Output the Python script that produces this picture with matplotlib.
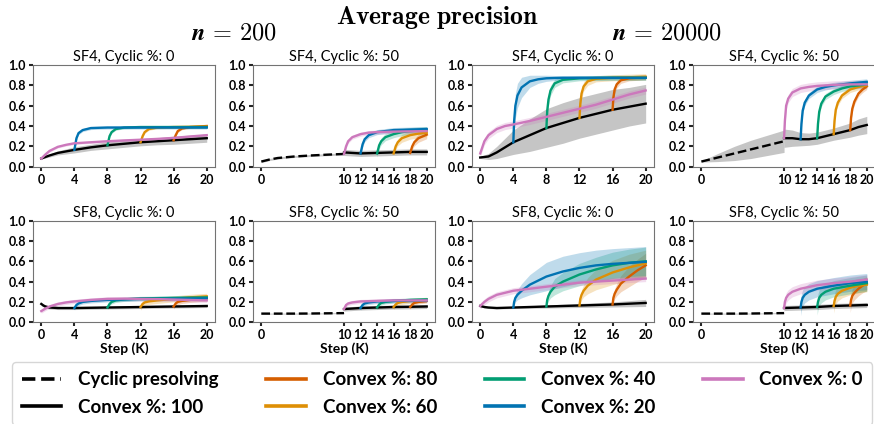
import numpy as np
import matplotlib
matplotlib.use("Agg")
import matplotlib.pyplot as plt
from matplotlib.lines import Line2D

plt.rcParams['font.family'] = ['Lato', 'DejaVu Sans']
plt.rcParams['mathtext.fontset'] = 'cm'

# curve name -> (steps, mean, band half width)
n200_sf4_c0 = {
    '100': ([0, 1, 2, 3, 4, 6, 8, 10, 12, 14, 16, 18, 20],
            [0.08, 0.11, 0.135, 0.15, 0.165, 0.19, 0.21, 0.225, 0.24, 0.25, 0.26, 0.27, 0.28],
            [0.005, 0.015, 0.02, 0.025, 0.03, 0.03, 0.035, 0.035, 0.035, 0.035, 0.04, 0.04, 0.04]),
    '80': ([16, 16.25, 16.5, 17, 18, 20], [0.26, 0.31, 0.35, 0.375, 0.39, 0.40], 0.012),
    '60': ([12, 12.25, 12.5, 13, 14, 16, 20], [0.24, 0.30, 0.34, 0.37, 0.385, 0.39, 0.395], 0.012),
    '40': ([8, 8.25, 8.5, 9, 10, 12, 16, 20], [0.21, 0.30, 0.34, 0.37, 0.385, 0.39, 0.39, 0.39], 0.012),
    '20': ([4, 4.25, 4.5, 5, 6, 8, 12, 16, 20],
           [0.165, 0.28, 0.33, 0.36, 0.38, 0.385, 0.385, 0.385, 0.385], 0.015),
    '0': ([0, 0.5, 1, 2, 3, 4, 6, 8, 10, 12, 14, 16, 18, 20],
          [0.08, 0.12, 0.155, 0.195, 0.215, 0.23, 0.24, 0.25, 0.258, 0.265, 0.273, 0.283, 0.297, 0.31], 0.012),
}

n200_sf4_c50 = {
    'cyclic': ([0, 1, 2, 4, 6, 8, 10], [0.05, 0.07, 0.085, 0.10, 0.11, 0.118, 0.125], 0.01),
    '100': ([10, 11, 12, 14, 16, 18, 20], [0.14, 0.135, 0.13, 0.135, 0.14, 0.145, 0.145], 0.03),
    '80': ([18, 18.25, 18.5, 19, 20], [0.135, 0.2, 0.24, 0.28, 0.315], [0.005, 0.03, 0.035, 0.04, 0.04]),
    '60': ([16, 16.25, 16.5, 17, 18, 19, 20], [0.13, 0.2, 0.24, 0.28, 0.31, 0.325, 0.335],
           [0.005, 0.03, 0.035, 0.04, 0.04, 0.04, 0.04]),
    '40': ([14, 14.25, 14.5, 15, 16, 17, 18, 20], [0.13, 0.21, 0.25, 0.29, 0.32, 0.34, 0.35, 0.36], 0.035),
    '20': ([12, 12.25, 12.5, 13, 14, 16, 18, 20], [0.13, 0.22, 0.27, 0.31, 0.34, 0.36, 0.365, 0.37], 0.025),
    '0': ([10, 10.25, 10.5, 11, 12, 13, 14, 16, 20],
          [0.125, 0.2, 0.25, 0.29, 0.32, 0.335, 0.34, 0.345, 0.35], 0.02),
}

n20000_sf4_c0 = {
    '100': ([0, 1, 2, 3, 4, 6, 8, 10, 12, 14, 16, 18, 20],
            [0.09, 0.10, 0.14, 0.19, 0.24, 0.31, 0.38, 0.43, 0.48, 0.52, 0.56, 0.59, 0.62],
            [0.01, 0.03, 0.06, 0.09, 0.12, 0.16, 0.19, 0.2, 0.2, 0.2, 0.2, 0.19, 0.19]),
    '80': ([16, 16.1, 16.25, 16.5, 17, 18, 20], [0.56, 0.68, 0.76, 0.81, 0.85, 0.87, 0.88],
           [0.01, 0.04, 0.04, 0.035, 0.03, 0.025, 0.025]),
    '60': ([12, 12.1, 12.25, 12.5, 13, 14, 16, 20], [0.48, 0.62, 0.72, 0.79, 0.84, 0.865, 0.875, 0.885],
           [0.01, 0.05, 0.05, 0.045, 0.04, 0.03, 0.03, 0.03]),
    '40': ([8, 8.1, 8.25, 8.5, 9, 10, 12, 16, 20], [0.38, 0.55, 0.66, 0.75, 0.82, 0.855, 0.87, 0.875, 0.875],
           [0.01, 0.06, 0.06, 0.05, 0.04, 0.03, 0.025, 0.025, 0.025]),
    '20': ([4, 4.1, 4.25, 4.5, 5, 6, 7, 8, 10, 14, 20],
           [0.24, 0.45, 0.60, 0.70, 0.78, 0.84, 0.86, 0.87, 0.875, 0.875, 0.875],
           [0.02, 0.1, 0.12, 0.12, 0.1, 0.06, 0.04, 0.03, 0.02, 0.02, 0.02]),
    '0': ([0, 0.5, 1, 2, 3, 4, 6, 8, 10, 12, 14, 16, 18, 20],
          [0.13, 0.25, 0.31, 0.37, 0.40, 0.415, 0.45, 0.49, 0.53, 0.57, 0.61, 0.66, 0.71, 0.75], 0.035),
}

n20000_sf4_c50 = {
    'cyclic': ([0, 2, 4, 6, 8, 10], [0.05, 0.09, 0.13, 0.17, 0.21, 0.25], [0.005, 0.04, 0.07, 0.09, 0.1, 0.11]),
    '100': ([10, 11, 12, 13, 14, 15, 16, 17, 18, 19, 20],
            [0.28, 0.28, 0.27, 0.27, 0.28, 0.30, 0.32, 0.34, 0.36, 0.39, 0.41],
            [0.09, 0.08, 0.065, 0.06, 0.06, 0.06, 0.06, 0.065, 0.07, 0.08, 0.085]),
    '80': ([18, 18.1, 18.25, 18.5, 19, 19.5, 20], [0.36, 0.48, 0.57, 0.64, 0.72, 0.76, 0.79], 0.03),
    '60': ([16, 16.1, 16.25, 16.5, 17, 18, 19, 20], [0.32, 0.45, 0.56, 0.63, 0.70, 0.76, 0.785, 0.80], 0.03),
    '40': ([14, 14.1, 14.25, 14.5, 15, 16, 17, 18, 20], [0.28, 0.42, 0.54, 0.62, 0.69, 0.74, 0.77, 0.79, 0.81], 0.03),
    '20': ([12, 12.1, 12.25, 12.5, 13, 14, 15, 16, 18, 20],
           [0.27, 0.42, 0.55, 0.63, 0.70, 0.76, 0.785, 0.80, 0.82, 0.835], 0.03),
    '0': ([10, 10.1, 10.25, 10.5, 11, 12, 13, 14, 16, 18, 20],
          [0.28, 0.45, 0.60, 0.67, 0.73, 0.77, 0.785, 0.795, 0.805, 0.81, 0.81], 0.04),
}

n200_sf8_c0 = {
    '100': ([0, 0.25, 0.5, 1, 2, 4, 8, 12, 16, 20],
            [0.18, 0.165, 0.155, 0.145, 0.14, 0.14, 0.145, 0.15, 0.155, 0.16], 0.015),
    '80': ([16, 16.25, 16.5, 17, 18, 20], [0.155, 0.185, 0.2, 0.21, 0.22, 0.235], 0.025),
    '60': ([12, 12.25, 12.5, 13, 14, 16, 18, 20], [0.15, 0.18, 0.195, 0.205, 0.215, 0.23, 0.245, 0.255], 0.03),
    '40': ([8, 8.25, 8.5, 9, 10, 12, 16, 20], [0.145, 0.18, 0.2, 0.215, 0.225, 0.235, 0.24, 0.245], 0.02),
    '20': ([4, 4.25, 4.5, 5, 6, 8, 12, 16, 20], [0.14, 0.17, 0.185, 0.2, 0.21, 0.22, 0.23, 0.232, 0.235], 0.02),
    '0': ([0, 0.5, 1, 2, 3, 4, 6, 8, 10, 14, 20],
          [0.11, 0.135, 0.155, 0.18, 0.195, 0.205, 0.22, 0.23, 0.232, 0.228, 0.215], 0.02),
}

n200_sf8_c50 = {
    'cyclic': ([0, 2, 4, 6, 8, 10], [0.085, 0.085, 0.085, 0.086, 0.088, 0.09], 0.005),
    '100': ([10, 12, 14, 16, 18, 20], [0.13, 0.14, 0.145, 0.15, 0.152, 0.155], 0.02),
    '80': ([18, 18.25, 18.5, 19, 20], [0.15, 0.175, 0.19, 0.2, 0.21], 0.02),
    '60': ([16, 16.25, 16.5, 17, 18, 20], [0.15, 0.175, 0.19, 0.2, 0.21, 0.22], 0.025),
    '40': ([14, 14.25, 14.5, 15, 16, 18, 20], [0.145, 0.175, 0.19, 0.2, 0.21, 0.22, 0.225], 0.02),
    '20': ([12, 12.25, 12.5, 13, 14, 16, 20], [0.14, 0.17, 0.185, 0.195, 0.205, 0.21, 0.215], 0.02),
    '0': ([10, 10.25, 10.5, 11, 12, 14, 16, 20], [0.13, 0.17, 0.185, 0.195, 0.205, 0.21, 0.215, 0.215], 0.02),
}

n20000_sf8_c0 = {
    '100': ([0, 0.5, 1, 2, 4, 8, 12, 16, 20],
            [0.16, 0.15, 0.145, 0.14, 0.145, 0.155, 0.165, 0.175, 0.19],
            [0.005, 0.01, 0.01, 0.01, 0.01, 0.015, 0.02, 0.025, 0.035]),
    '80': ([16, 16.1, 16.25, 16.5, 17, 18, 19, 20], [0.175, 0.24, 0.28, 0.32, 0.38, 0.45, 0.51, 0.56],
           [0.01, 0.04, 0.05, 0.06, 0.08, 0.1, 0.11, 0.12]),
    '60': ([12, 12.1, 12.25, 12.5, 13, 14, 16, 18, 20], [0.165, 0.23, 0.27, 0.31, 0.36, 0.42, 0.49, 0.54, 0.58],
           [0.01, 0.04, 0.05, 0.06, 0.08, 0.1, 0.12, 0.13, 0.13]),
    '40': ([8, 8.1, 8.25, 8.5, 9, 10, 12, 14, 16, 18, 20],
           [0.155, 0.22, 0.26, 0.30, 0.35, 0.40, 0.47, 0.52, 0.56, 0.585, 0.60],
           [0.01, 0.04, 0.05, 0.06, 0.08, 0.09, 0.11, 0.12, 0.13, 0.135, 0.14]),
    '20': ([4, 4.1, 4.25, 4.5, 5, 6, 7, 8, 10, 12, 14, 16, 18, 20],
           [0.145, 0.2, 0.24, 0.27, 0.31, 0.37, 0.41, 0.45, 0.50, 0.535, 0.56, 0.575, 0.585, 0.595],
           [0.01, 0.03, 0.04, 0.05, 0.07, 0.1, 0.12, 0.14, 0.15, 0.15, 0.15, 0.15, 0.15, 0.15]),
    '0': ([0, 0.5, 1, 2, 3, 4, 6, 8, 10, 12, 14, 16, 18, 20],
          [0.16, 0.2, 0.23, 0.27, 0.29, 0.31, 0.33, 0.35, 0.37, 0.39, 0.40, 0.41, 0.42, 0.43], 0.03),
}

n20000_sf8_c50 = {
    'cyclic': ([0, 2, 4, 6, 8, 10], [0.085, 0.085, 0.085, 0.086, 0.088, 0.09], 0.005),
    '100': ([10, 12, 14, 16, 18, 20], [0.14, 0.145, 0.15, 0.16, 0.165, 0.17], 0.025),
    '80': ([18, 18.1, 18.25, 18.5, 19, 19.5, 20], [0.165, 0.22, 0.26, 0.29, 0.33, 0.36, 0.38], 0.07),
    '60': ([16, 16.1, 16.25, 16.5, 17, 18, 19, 20], [0.16, 0.21, 0.25, 0.28, 0.31, 0.34, 0.36, 0.37], 0.07),
    '40': ([14, 14.1, 14.25, 14.5, 15, 16, 18, 20], [0.15, 0.2, 0.24, 0.27, 0.3, 0.33, 0.36, 0.385], 0.08),
    '20': ([12, 12.1, 12.25, 12.5, 13, 14, 16, 18, 20], [0.145, 0.2, 0.24, 0.27, 0.30, 0.33, 0.36, 0.385, 0.40], 0.08),
    '0': ([10, 10.1, 10.25, 10.5, 11, 12, 14, 16, 18, 20],
          [0.14, 0.2, 0.24, 0.27, 0.30, 0.33, 0.365, 0.385, 0.40, 0.42], 0.05),
}

panels = [
    [n200_sf4_c0, n200_sf4_c50, n20000_sf4_c0, n20000_sf4_c50],
    [n200_sf8_c0, n200_sf8_c50, n20000_sf8_c0, n20000_sf8_c50],
]
titles = [["SF4, Cyclic %: 0", "SF4, Cyclic %: 50"] * 2,
          ["SF8, Cyclic %: 0", "SF8, Cyclic %: 50"] * 2]
ticks_c0 = [0, 4, 8, 12, 16, 20]
ticks_c50 = [0, 10, 12, 14, 16, 18, 20]
yticks = [0.0, 0.2, 0.4, 0.6, 0.8, 1.0]

styles = {
    'cyclic': ('black', '--', 'Cyclic presolving'),
    '100': ('black', '-', 'Convex %: 100'),
    '80': ('#d55e00', '-', 'Convex %: 80'),
    '60': ('#de8f05', '-', 'Convex %: 60'),
    '40': ('#029e73', '-', 'Convex %: 40'),
    '20': ('#0173b2', '-', 'Convex %: 20'),
    '0': ('#cc78bc', '-', 'Convex %: 0'),
}
draw_order = ['cyclic', '100', '80', '60', '40', '20', '0']

fig = plt.figure(figsize=(8.74, 4.24), dpi=100)

lefts = [0.0378, 0.2895, 0.540, 0.793]
bottoms = [0.607, 0.240]
w, h = 0.2082, 0.2395

for r in range(2):
    for c in range(4):
        ax = fig.add_axes([lefts[c], bottoms[r], w, h])
        data = panels[r][c]
        for key in draw_order:
            if key not in data:
                continue
            xs, ys, sd = data[key]
            xs = np.array(xs, dtype=float)
            ys = np.array(ys, dtype=float)
            sd = np.broadcast_to(np.array(sd, dtype=float), ys.shape)
            col, ls, _ = styles[key]
            if col == 'black':
                ax.fill_between(xs, ys - sd, ys + sd, color='0.55', alpha=0.5, lw=0)
            else:
                ax.fill_between(xs, ys - sd, ys + sd, color=col, alpha=0.25, lw=0)
            ax.plot(xs, ys, color=col, ls=ls, lw=1.7)
        ax.set_ylim(0, 1)
        ax.set_xlim(-1, 21)
        xt = ticks_c0 if c % 2 == 0 else ticks_c50
        ax.set_yticks(yticks)
        ax.set_yticklabels(['%.1f' % v for v in yticks], fontweight='bold', fontsize=9)
        ax.set_xticks(xt)
        ax.set_xticklabels([str(v) for v in xt], fontweight='bold', fontsize=9)
        ax.set_title(titles[r][c], fontsize=10.5, pad=3)
        for sp in ax.spines.values():
            sp.set_color('0.45')
        ax.tick_params(length=3, width=1.5, pad=2, color='0.15')
        if r == 1:
            ax.set_xlabel('Step (K)', fontsize=10, fontweight='bold', labelpad=1)

fig.text(0.5, 0.958, r'$\mathbf{Average\ precision}$', ha='center', va='center', fontsize=18.5)
fig.text(0.268, 0.922, r'$\mathbfit{n} \mathbf{\,=\,200}$', ha='center', va='center', fontsize=17.5)
fig.text(0.763, 0.922, r'$\mathbfit{n} \mathbf{\,=\,20000}$', ha='center', va='center', fontsize=17.5)

handles = [Line2D([], [], color=styles[k][0], ls=styles[k][1], lw=2.6) for k in draw_order]
labels = [styles[k][2] for k in draw_order]
fig.legend(handles, labels, ncol=4, loc='upper left', mode='expand',
           bbox_to_anchor=(0.014, 0.146, 0.984, 0.0), borderaxespad=0,
           prop={'family': ['Lato', 'DejaVu Sans'], 'weight': 'bold', 'size': 13.5},
           frameon=True, fancybox=True, edgecolor='0.8', borderpad=0.5, labelspacing=0.55,
           handlelength=2.1, handletextpad=0.9)

fig.savefig('out.png', dpi=100)
